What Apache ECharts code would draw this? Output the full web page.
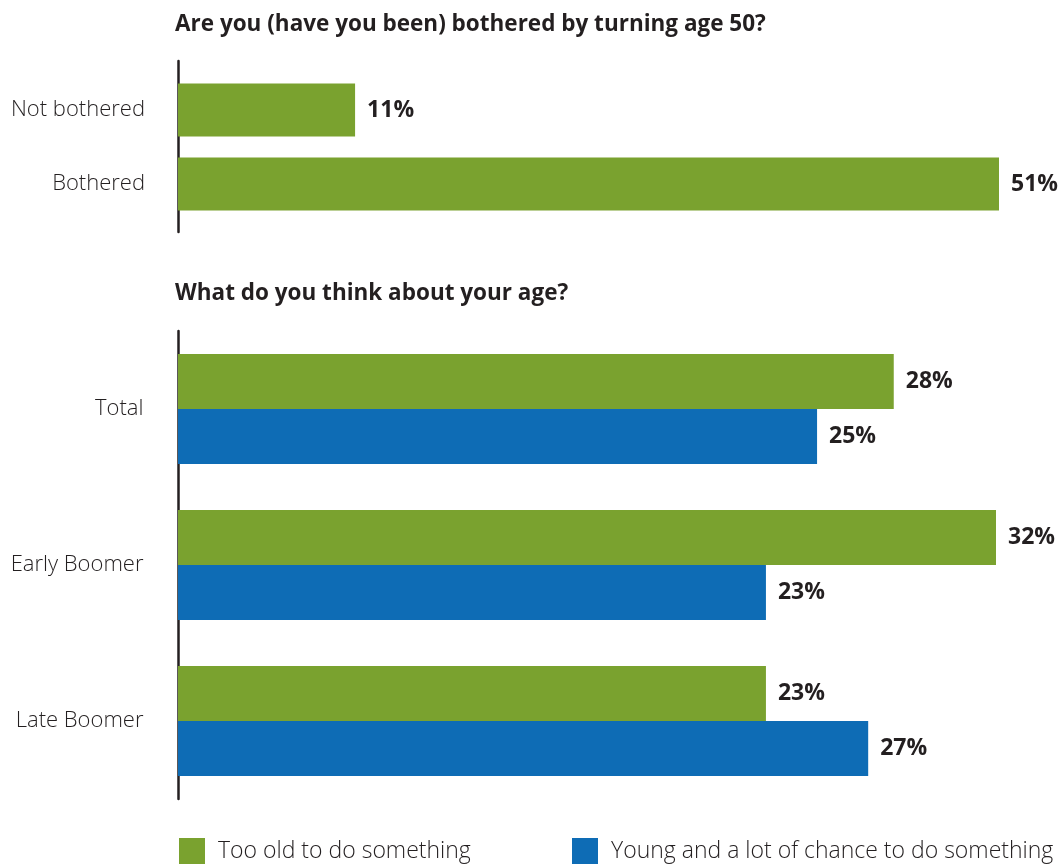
<!DOCTYPE html>
<html>
<head>
<meta charset="utf-8">
<script src="https://cdn.jsdelivr.net/npm/echarts@6/dist/echarts.min.js"></script>
<style>
  html, body { margin: 0; padding: 0; background: #ffffff; }
  #chart { width: 1063px; height: 865px; }
</style>
</head>
<body>
<div id="chart"></div>
<script>
// Survey: attitudes toward turning 50
const titleTop = 'Are you (have you been) bothered by turning age 50?';
const titleBottom = 'What do you think about your age?';

const botherCategories = ['Not bothered', 'Bothered'];
const botherValues = [11, 51];

const ageCategories = ['Total', 'Early Boomer', 'Late Boomer'];
const tooOldName = 'Too old to do something';
const youngName = 'Young and a lot of chance to do something';
const tooOldValues = [28, 32, 23];
const youngValues = [25, 23, 27];

const GREEN = '#7aa22f';
const BLUE = '#0e6cb5';
const INK = '#231f20';
const FONT = '"Open Sans", "Noto Sans", sans-serif';

const chart = echarts.init(document.getElementById('chart'), null, { renderer: 'canvas' });

const valueLabel = {
  show: true,
  position: 'right',
  distance: 12,
  formatter: p => p.value + '%',
  fontFamily: FONT,
  fontWeight: 'bold',
  fontSize: 23,
  color: INK
};

const catLabel = {
  fontFamily: FONT,
  fontWeight: 300,
  fontSize: 22,
  color: INK,
  margin: 33
};

const titleStyle = { fontFamily: FONT, fontWeight: 'bold', fontSize: 22.5, color: INK };
const legendText = { fontFamily: FONT, fontWeight: 300, fontSize: 23, color: INK, padding: [0, 0, 0, 8] };
const ruleStyle = { show: true, lineStyle: { color: INK, width: 2.5 } };

chart.setOption({
  backgroundColor: '#ffffff',
  animation: false,
  title: [
    { text: titleTop, left: 175, top: 13, padding: 0, textStyle: titleStyle },
    { text: titleBottom, left: 175, top: 282, padding: 0, textStyle: titleStyle }
  ],
  legend: [
    { data: [tooOldName], left: 179, top: 838, padding: 0, itemWidth: 26, itemHeight: 26,
      icon: 'rect', selectedMode: false, textStyle: legendText },
    { data: [youngName], left: 572, top: 838, padding: 0, itemWidth: 26, itemHeight: 26,
      icon: 'rect', selectedMode: false, textStyle: legendText }
  ],
  grid: [
    // upper bars
    { left: 178, right: 64, top: 73, height: 148 },
    // lower grouped bars
    { left: 178, right: 67, top: 331, height: 468 },
    // vertical rule for the upper block
    { left: 178, width: 10, top: 61, height: 171 }
  ],
  xAxis: [
    { type: 'value', gridIndex: 0, min: 0, max: Math.max(...botherValues), show: false },
    { type: 'value', gridIndex: 1, min: 0, max: Math.max(...tooOldValues, ...youngValues), show: false },
    { type: 'value', gridIndex: 2, show: false }
  ],
  yAxis: [
    { type: 'category', gridIndex: 0, data: botherCategories, inverse: true,
      axisLine: { show: false }, axisTick: { show: false }, axisLabel: catLabel },
    { type: 'category', gridIndex: 1, data: ageCategories, inverse: true, offset: 1.5,
      axisLine: ruleStyle, axisTick: { show: false }, axisLabel: catLabel },
    { type: 'value', gridIndex: 2, offset: 1.5,
      axisLine: ruleStyle, axisTick: { show: false }, axisLabel: { show: false }, splitLine: { show: false } }
  ],
  series: [
    { name: 'Bothered by turning 50', type: 'bar', xAxisIndex: 0, yAxisIndex: 0,
      data: botherValues, barWidth: 53, itemStyle: { color: GREEN }, label: valueLabel },
    { name: tooOldName, type: 'bar', xAxisIndex: 1, yAxisIndex: 1,
      data: tooOldValues, barWidth: 55, barGap: '0%', itemStyle: { color: GREEN }, label: valueLabel },
    { name: youngName, type: 'bar', xAxisIndex: 1, yAxisIndex: 1,
      data: youngValues, barWidth: 55, barGap: '0%', itemStyle: { color: BLUE }, label: valueLabel }
  ]
});
</script>
</body>
</html>
